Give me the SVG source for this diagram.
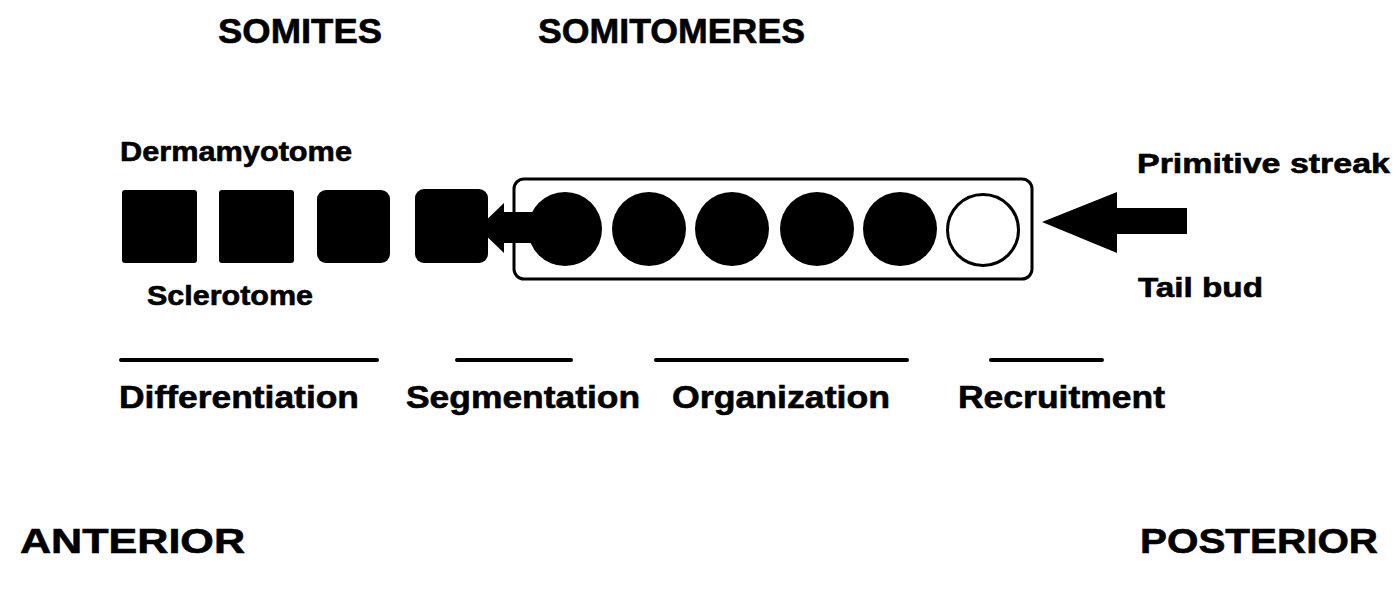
<svg xmlns="http://www.w3.org/2000/svg" width="1397" height="591" viewBox="0 0 1397 591">
<style>
text{font-family:"Liberation Sans",Arial,Helvetica,sans-serif;font-weight:bold;fill:#000;stroke:#000;stroke-width:0.6}
.title{font-size:35px}
.lab{font-size:28px}
.stage{font-size:32px}
.solid{fill:#000}
.hollow{fill:#fff;stroke:#000;stroke-width:3}
.bar{stroke:#000;stroke-width:4;stroke-linecap:round}
</style>
<rect width="1397" height="591" fill="#fff"/>
<g id="headings">
<text class="title" x="218" y="43" textLength="164" lengthAdjust="spacingAndGlyphs">SOMITES</text>
<text class="title" x="538" y="43" textLength="267" lengthAdjust="spacingAndGlyphs">SOMITOMERES</text>
<text class="title" x="20" y="553" textLength="225" lengthAdjust="spacingAndGlyphs">ANTERIOR</text>
<text class="title" x="1140" y="553" textLength="238" lengthAdjust="spacingAndGlyphs">POSTERIOR</text>
</g>
<g id="somite-labels">
<text class="lab" x="120" y="161" textLength="232" lengthAdjust="spacingAndGlyphs">Dermamyotome</text>
<text class="lab" x="147" y="305" textLength="166" lengthAdjust="spacingAndGlyphs">Sclerotome</text>
</g>
<g id="somite-1"><rect class="solid" x="122" y="190" width="75" height="73" rx="3"/></g>
<g id="somite-2"><rect class="solid" x="219" y="190" width="75" height="73" rx="3"/></g>
<g id="somite-3"><rect class="solid" x="317" y="190" width="73" height="73" rx="9"/></g>
<g id="somite-4"><rect class="solid" x="415" y="189" width="73" height="74" rx="9"/></g>
<g id="somitomere-strip">
<rect x="514" y="179" width="518" height="100" rx="10" fill="none" stroke="#000" stroke-width="3"/>
</g>
<g id="somitomere-1"><circle class="solid" cx="565" cy="229" r="37"/></g>
<g id="somitomere-2"><circle class="solid" cx="649" cy="229" r="37"/></g>
<g id="somitomere-3"><circle class="solid" cx="732" cy="229" r="37"/></g>
<g id="somitomere-4"><circle class="solid" cx="817" cy="229" r="37"/></g>
<g id="somitomere-5"><circle class="solid" cx="900" cy="229" r="37"/></g>
<g id="somitomere-6"><circle class="hollow" cx="983" cy="230" r="35.5"/></g>
<g id="source-labels">
<text class="lab" x="1137" y="173" textLength="253" lengthAdjust="spacingAndGlyphs">Primitive streak</text>
<text class="lab" x="1138" y="297" textLength="125" lengthAdjust="spacingAndGlyphs">Tail bud</text>
</g>
<g id="connectors">
<polygon class="solid" points="478,228 504,203 504,253"/>
<rect class="solid" x="502" y="212" width="32" height="31"/>
<polygon class="solid" points="1042,222 1117,192 1117,208 1187,208 1187,234 1117,234 1117,253"/>
</g>
<g id="stages">
<line class="bar" x1="121" y1="360" x2="377" y2="360"/>
<line class="bar" x1="457" y1="360" x2="571" y2="360"/>
<line class="bar" x1="656" y1="360" x2="907" y2="360"/>
<line class="bar" x1="991" y1="360" x2="1102" y2="360"/>
<text class="stage" x="119" y="408" textLength="240" lengthAdjust="spacingAndGlyphs">Differentiation</text>
<text class="stage" x="406" y="408" textLength="234" lengthAdjust="spacingAndGlyphs">Segmentation</text>
<text class="stage" x="672" y="408" textLength="218" lengthAdjust="spacingAndGlyphs">Organization</text>
<text class="stage" x="958" y="408" textLength="207" lengthAdjust="spacingAndGlyphs">Recruitment</text>
</g>
</svg>
